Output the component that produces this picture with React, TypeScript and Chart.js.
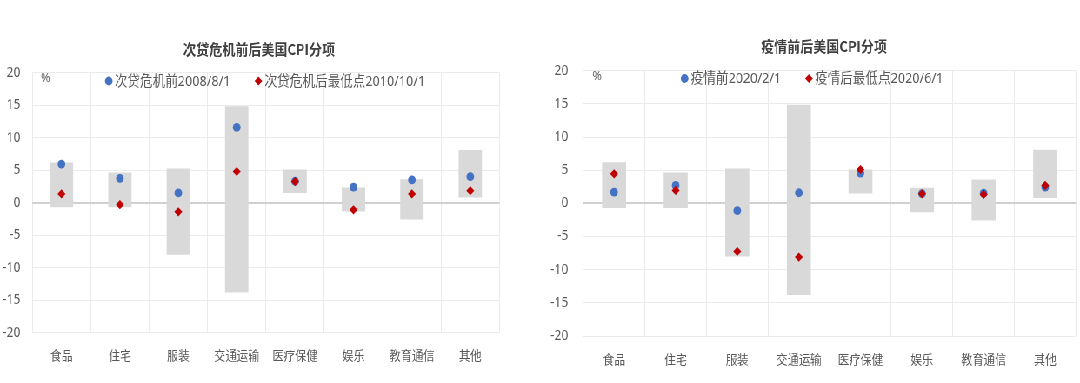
import React, { useEffect, useRef } from 'react';
import { Chart, registerables } from 'chart.js';

Chart.register(...registerables);

// ---------------- data ----------------
const categories = ['食品', '住宅', '服装', '交通运输', '医疗保健', '娱乐', '教育通信', '其他'];
const rangeLow = [-0.7, -0.7, -8.0, -13.8, 1.5, -1.35, -2.6, 0.8];
const rangeHigh = [6.2, 4.65, 5.25, 14.85, 5.1, 2.35, 3.6, 8.1];

const gfcTitle = '次贷危机前后美国CPI分项';
const gfcBeforeLabel = '次贷危机前2008/8/1';
const gfcAfterLabel = '次贷危机后最低点2010/10/1';
const gfcBefore = [5.95, 3.75, 1.5, 11.6, 3.3, 2.4, 3.5, 4.0];
const gfcAfter = [1.35, -0.3, -1.4, 4.8, 3.25, -1.1, 1.35, 1.85];

const covidTitle = '疫情前后美国CPI分项';
const covidBeforeLabel = '疫情前2020/2/1';
const covidAfterLabel = '疫情后最低点2020/6/1';
const covidBefore = [1.7, 2.7, -1.1, 1.6, 4.55, 1.45, 1.55, 2.45];
const covidAfter = [4.45, 1.95, -7.25, -8.1, 5.1, 1.45, 1.35, 2.7];

const yMin = -20;
const yMax = 20;
const yStep = 5;
const unitLabel = '%';

// ---------------- look ----------------
const S = 540 / 621; // horizontal compression of the reference
const FONT = '"Noto Sans CJK SC", "Noto Sans", sans-serif';
const LATIN_FONT = '"Noto Sans", "Noto Sans CJK SC", sans-serif';
const BLUE = '#4472C4';
const RED = '#C00000';
const BAR = '#D9D9D9';

type Layout = {
  top: number;
  bottom: number;
  left: number;
  right: number;
  yPad: number;
  titleX: number;
  titleY: number;
  legendX: number;
  legendY: number;
  pctX: number;
  pctY: number;
  barPct: number;
};

function CpiChart(props: {
  title: string;
  beforeLabel: string;
  afterLabel: string;
  before: number[];
  after: number[];
  layout: Layout;
}) {
  const ref = useRef<HTMLCanvasElement | null>(null);
  useEffect(() => {
    const L = props.layout;
    const W = 621;
    const H = 383;
    const overlay = {
      id: 'overlay',
      afterDraw(chart: any) {
        const ctx = chart.ctx as CanvasRenderingContext2D;
        const ca = chart.chartArea;
        ctx.save();
        ctx.textBaseline = 'middle';
        // title
        ctx.font = `bold 15px ${FONT}`;
        ctx.fillStyle = '#404040';
        ctx.textAlign = 'center';
        ctx.fillText(props.title, L.titleX, L.titleY);
        // unit
        ctx.font = `13px ${LATIN_FONT}`;
        ctx.fillStyle = '#666666';
        ctx.textAlign = 'left';
        ctx.fillText(unitLabel, ca.left + L.pctX, L.pctY);
        // legend
        ctx.font = `14.5px ${LATIN_FONT}`;
        const w1 = ctx.measureText(props.beforeLabel).width;
        const w2 = ctx.measureText(props.afterLabel).width;
        const r = 4.4;
        const gText = 7;
        const gItem = 32;
        const total = r + r + gText + w1 + gItem + gText + w2;
        const x0 = L.legendX - total / 2;
        const c1 = x0 + r;
        const y = L.legendY;
        ctx.fillStyle = BLUE;
        ctx.beginPath();
        ctx.arc(c1, y, r, 0, Math.PI * 2);
        ctx.fill();
        ctx.fillStyle = '#595959';
        ctx.fillText(props.beforeLabel, c1 + gText, y + 0.5);
        const c2 = c1 + gText + w1 + gItem;
        ctx.fillStyle = RED;
        ctx.beginPath();
        ctx.moveTo(c2 - r, y);
        ctx.lineTo(c2, y - r);
        ctx.lineTo(c2 + r, y);
        ctx.lineTo(c2, y + r);
        ctx.closePath();
        ctx.fill();
        ctx.fillStyle = '#595959';
        ctx.fillText(props.afterLabel, c2 + gText, y + 0.5);
        ctx.restore();
      },
    };

    const chart = new Chart(ref.current as HTMLCanvasElement, {
      type: 'bar',
      data: {
        labels: categories,
        datasets: [
          {
            type: 'bar',
            label: 'range',
            data: rangeLow.map((lo, i) => [lo, rangeHigh[i]]) as any,
            backgroundColor: BAR,
            borderWidth: 0,
            barPercentage: L.barPct,
            categoryPercentage: 1,
            order: 3,
          } as any,
          {
            type: 'line',
            label: props.beforeLabel,
            data: props.before,
            showLine: false,
            pointStyle: 'circle',
            pointRadius: 4.4,
            pointBackgroundColor: BLUE,
            pointBorderColor: BLUE,
            pointBorderWidth: 0,
            order: 2,
          } as any,
          {
            type: 'line',
            label: props.afterLabel,
            data: props.after,
            showLine: false,
            pointStyle: 'rectRot',
            pointRadius: 4.6,
            pointBackgroundColor: RED,
            pointBorderColor: RED,
            pointBorderWidth: 0,
            order: 1,
          } as any,
        ],
      },
      options: {
        responsive: false,
        animation: false,
        layout: { padding: { top: L.top, bottom: 0, left: 0, right: W - L.right } },
        plugins: {
          legend: { display: false },
          title: { display: false },
          tooltip: { enabled: false },
        },
        scales: {
          x: {
            offset: true,
            grid: { offset: true, color: '#EBEBEB', lineWidth: 1, drawTicks: false },
            border: { display: false },
            ticks: { color: '#595959', font: { family: FONT, size: 13 }, padding: 15, maxRotation: 0, autoSkip: false },
            afterFit: (scale: any) => {
              scale.height = H - L.bottom;
            },
          },
          y: {
            min: yMin,
            max: yMax,
            ticks: { stepSize: yStep, color: '#595959', font: { family: LATIN_FONT, size: 14 }, padding: L.yPad },
            grid: {
              drawTicks: false,
              color: (c: any) => (c.tick && c.tick.value === 0 ? '#D0D0D0' : '#EBEBEB'),
              lineWidth: (c: any) => (c.tick && c.tick.value === 0 ? 2 : 1),
            },
            border: { display: false },
            afterFit: (scale: any) => {
              scale.width = L.left;
            },
          },
        },
      },
      plugins: [overlay],
    });
    return () => chart.destroy();
  }, []);
  return <canvas ref={ref} width={621} height={383} style={{ display: 'block', width: 621, height: 383 }} />;
}

export default function App() {
  const leftLayout: Layout = {
    top: 72.7,
    bottom: 332.7,
    left: 32.3 / S,
    right: 499.5 / S,
    yPad: (32.3 - 20.5) / S,
    titleX: 259 / S,
    titleY: 49,
    legendX: 267 / S,
    legendY: 81,
    pctX: 8.5 / S,
    pctY: 78,
    barPct: 0.4,
  };
  const rightLayout: Layout = {
    top: 70.7,
    bottom: 336,
    left: 43.3 / S,
    right: 539.3 / S,
    yPad: (43.3 - 28.3) / S,
    titleX: 284 / S,
    titleY: 46,
    legendX: 274 / S,
    legendY: 78.5,
    pctX: 9 / S,
    pctY: 76,
    barPct: 0.39,
  };
  return (
    <div
      style={{
        position: 'fixed',
        left: 0,
        top: 0,
        width: 1242,
        height: 383,
        display: 'flex',
        background: '#ffffff',
        transform: `scaleX(${S})`,
        transformOrigin: '0 0',
      }}
    >
      <CpiChart
        title={gfcTitle}
        beforeLabel={gfcBeforeLabel}
        afterLabel={gfcAfterLabel}
        before={gfcBefore}
        after={gfcAfter}
        layout={leftLayout}
      />
      <CpiChart
        title={covidTitle}
        beforeLabel={covidBeforeLabel}
        afterLabel={covidAfterLabel}
        before={covidBefore}
        after={covidAfter}
        layout={rightLayout}
      />
    </div>
  );
}
